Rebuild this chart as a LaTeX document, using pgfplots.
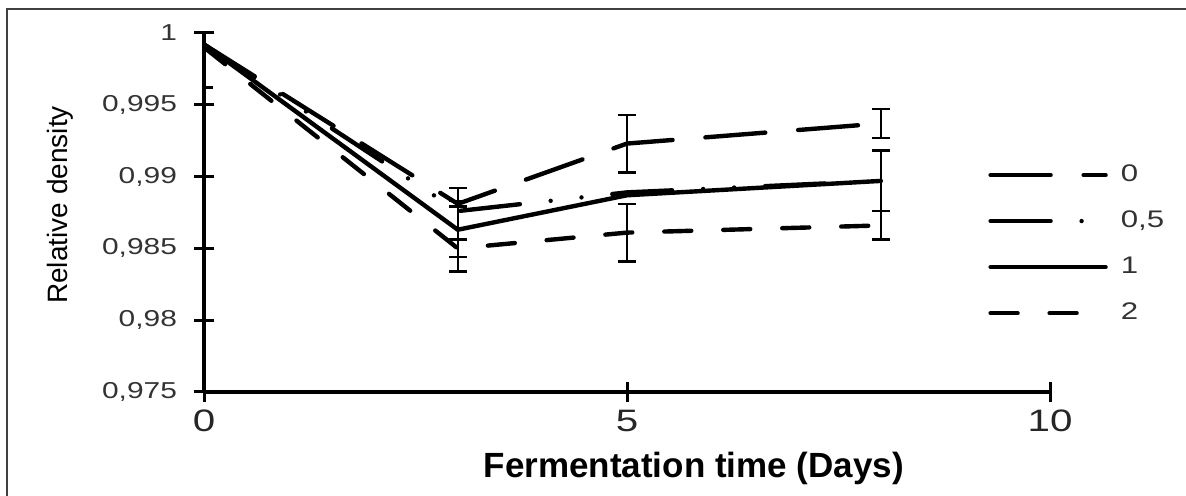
\documentclass[border=0pt]{standalone}
\usepackage{fontspec}
\setmainfont{Liberation Sans}
\newfontfamily\widefont[FakeStretch=1.3]{Liberation Sans}
\usepackage{pgfplots}
\usepackage{pgfplotstable}
\pgfplotsset{compat=1.18}

\pgfplotstableread{
x y
0 0.9992
3 0.9881
5 0.9923
8 0.9937
}\seriesA
\pgfplotstableread{
x y
0 0.9992
3 0.9876
5 0.9889
8 0.9897
}\seriesB
\pgfplotstableread{
x y
0 0.9992
3 0.9863
5 0.9887
8 0.9897
}\seriesC
\pgfplotstableread{
x y
0 0.9990
3 0.9850
5 0.9861
8 0.9866
}\seriesD
\pgfplotstableread{
x y e
0 0.9992 0.0030
3 0.9863 0.0029
8 0.9897 0.0021
3 0.9881 0.0002
5 0.9923 0.0020
8 0.9937 0.0010
3 0.9850 0.0006
5 0.9861 0.0020
8 0.9866 0.0010
}\errs

\begin{document}
\begin{tikzpicture}
\useasboundingbox (0pt,0pt) rectangle (593pt,248pt);
\draw[line width=1pt, black!75] (3.5pt,-10pt) -- (3.5pt,243.5pt) -- (600pt,243.5pt);
\begin{axis}[
  at={(102pt,52pt)}, anchor=south west,
  scale only axis, width=423pt, height=179.5pt,
  xmin=0, xmax=10, ymin=0.975, ymax=1,
  axis x line=bottom, axis y line=left,
  axis line style={-, line width=2pt, black},
  xtick={0,5,10}, xticklabels={0,5,10},
  ytick={0.975,0.98,0.985,0.99,0.995,1},
  yticklabels={{0,975},{0,98},{0,985},{0,99},{0,995},{1}},
  tick align=center, major tick length=10pt,
  tick style={line width=1.5pt, black},
  minor tick num=0,
  x tick label style={font=\widefont\fontsize{15.5}{17}\selectfont, text=black!85, yshift=-0.5pt},
  y tick label style={font=\widefont\fontsize{11.5}{13}\selectfont, text=black!80, xshift=-5pt},
  xlabel={Fermentation time (Days)},
  xlabel style={font=\bfseries\fontsize{17.5}{19}\selectfont, at={(axis description cs:0.579,-0.212)}, anchor=center},
  ylabel={Relative density},
  ylabel style={font=\fontsize{14}{16}\selectfont, at={(axis description cs:-0.170,0.521)}, anchor=center, rotate=0},
  legend style={draw=none, fill=none, at={(axis description cs:0.9196,0.412)}, anchor=west,
    nodes={inner sep=0pt, minimum height=23pt, font=\widefont\fontsize{12}{14}\selectfont, text=black!80},
    row sep=0pt},
  legend cell align=left,
  legend image code/.code={\draw[#1] (0pt,0pt) -- (57.5pt,0pt);},
  /tikz/every odd column/.append style={column sep=6.5pt},
  clip=true,
]
\addplot[black, line width=2.2pt, line cap=round, dash pattern=on 30pt off 16.5pt] table[x=x,y=y] {\seriesA};
\addlegendentry{0}
\addplot[black, line width=2.2pt, line cap=round, dash pattern=on 30pt off 15.5pt on 0pt off 15.5pt on 0pt off 15.5pt] table[x=x,y=y] {\seriesB};
\addlegendentry{0,5}
\addplot[black, line width=2.2pt, line cap=round] table[x=x,y=y] {\seriesC};
\addlegendentry{1}
\addplot[black, line width=2.2pt, line cap=round, dash pattern=on 13.5pt off 16pt] table[x=x,y=y] {\seriesD};
\addlegendentry{2}
\addplot[forget plot, draw=none, mark=none,
  error bars/.cd, y dir=both, y explicit,
  error bar style={draw=black, solid, line width=1.3pt},
  error mark options={rotate=90, mark size=4.5pt, line width=1.3pt, draw=black, solid}]
  table[x=x, y=y, y error=e] {\errs};
\end{axis}
\end{tikzpicture}
\end{document}
